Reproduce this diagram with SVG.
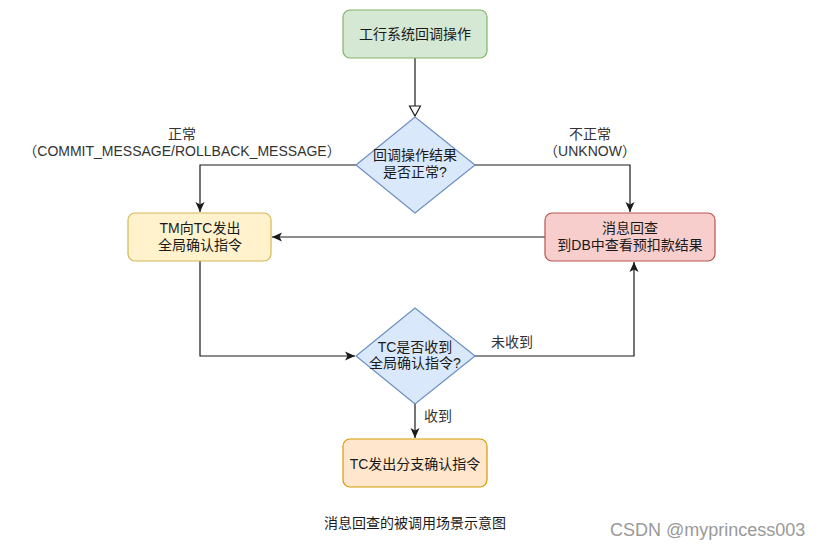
<svg xmlns="http://www.w3.org/2000/svg" width="822" height="549" viewBox="0 0 822 549">
<defs>
<style>
text{font-family:"Liberation Sans","Noto Sans CJK SC",sans-serif;font-size:14px;fill:#1a1a1a;text-anchor:middle}
.lbl{fill:#333}
.edge{fill:none;stroke:#1a1a1a;stroke-width:1.2}
.g{fill:#d5e8d4;stroke:#82b366;stroke-width:1.2}
.b{fill:#dae8fc;stroke:#6c8ebf;stroke-width:1.2}
.y{fill:#fff2cc;stroke:#d6b656;stroke-width:1.2}
.r{fill:#f8cecc;stroke:#b85450;stroke-width:1.2}
.o{fill:#ffe6cc;stroke:#d79b00;stroke-width:1.2}
</style>
<marker id="arr" markerUnits="userSpaceOnUse" markerWidth="12" markerHeight="12" refX="10" refY="5" orient="auto">
<path d="M0,0.5 L10,5 L0,9.5 L2.5,5 Z" fill="#1a1a1a"/>
</marker>
<marker id="hol" markerUnits="userSpaceOnUse" markerWidth="14" markerHeight="14" refX="11" refY="6.5" orient="auto">
<path d="M1,1 L11,6.5 L1,12 Z" fill="#fff" stroke="#1a1a1a" stroke-width="1.2"/>
</marker>
</defs>
<rect width="822" height="549" fill="#fff"/>
<g id="edges">
<path class="edge" d="M415,58 V116" marker-end="url(#hol)"/>
<path class="edge" d="M356,165 H200 V212" marker-end="url(#arr)"/>
<path class="edge" d="M475,165 H630 V212" marker-end="url(#arr)"/>
<path class="edge" d="M545,237 H272" marker-end="url(#arr)"/>
<path class="edge" d="M200,261 V356 H355" marker-end="url(#arr)"/>
<path class="edge" d="M475,356 H634 V262" marker-end="url(#arr)"/>
<path class="edge" d="M415,403 V438" marker-end="url(#arr)"/>
<text class="lbl" x="182" y="139">正常</text>
<text class="lbl" x="182" y="156">（COMMIT_MESSAGE/ROLLBACK_MESSAGE）</text>
<text class="lbl" x="590" y="139">不正常</text>
<text class="lbl" x="590" y="156">（UNKNOW）</text>
<text class="lbl" x="512" y="347">未收到</text>
<text class="lbl" x="438" y="421">收到</text>
</g>
<g id="start">
<rect class="g" x="343" y="10" width="144" height="48" rx="7"/>
<text x="415" y="39">工行系统回调操作</text>
</g>
<g id="decision1">
<polygon class="b" points="415,117 475,165 415,213 356,165"/>
<text x="415" y="160">回调操作结果</text>
<text x="415" y="177">是否正常?</text>
</g>
<g id="tm">
<rect class="y" x="128" y="213" width="143" height="48" rx="7"/>
<text x="200" y="233">TM向TC发出</text>
<text x="200" y="250">全局确认指令</text>
</g>
<g id="check">
<rect class="r" x="545" y="213" width="170" height="48" rx="7"/>
<text x="630" y="233">消息回查</text>
<text x="630" y="250">到DB中查看预扣款结果</text>
</g>
<g id="decision2">
<polygon class="b" points="415,308 475,356 415,404 356,356"/>
<text x="415" y="352">TC是否收到</text>
<text x="415" y="368">全局确认指令?</text>
</g>
<g id="branch">
<rect class="o" x="343" y="439" width="144" height="48" rx="7"/>
<text x="415" y="469">TC发出分支确认指令</text>
</g>
<text x="415" y="528">消息回查的被调用场景示意图</text>
<text x="610" y="536" style="text-anchor:start;font-size:18px;fill:#999">CSDN @myprincess003</text>
</svg>
